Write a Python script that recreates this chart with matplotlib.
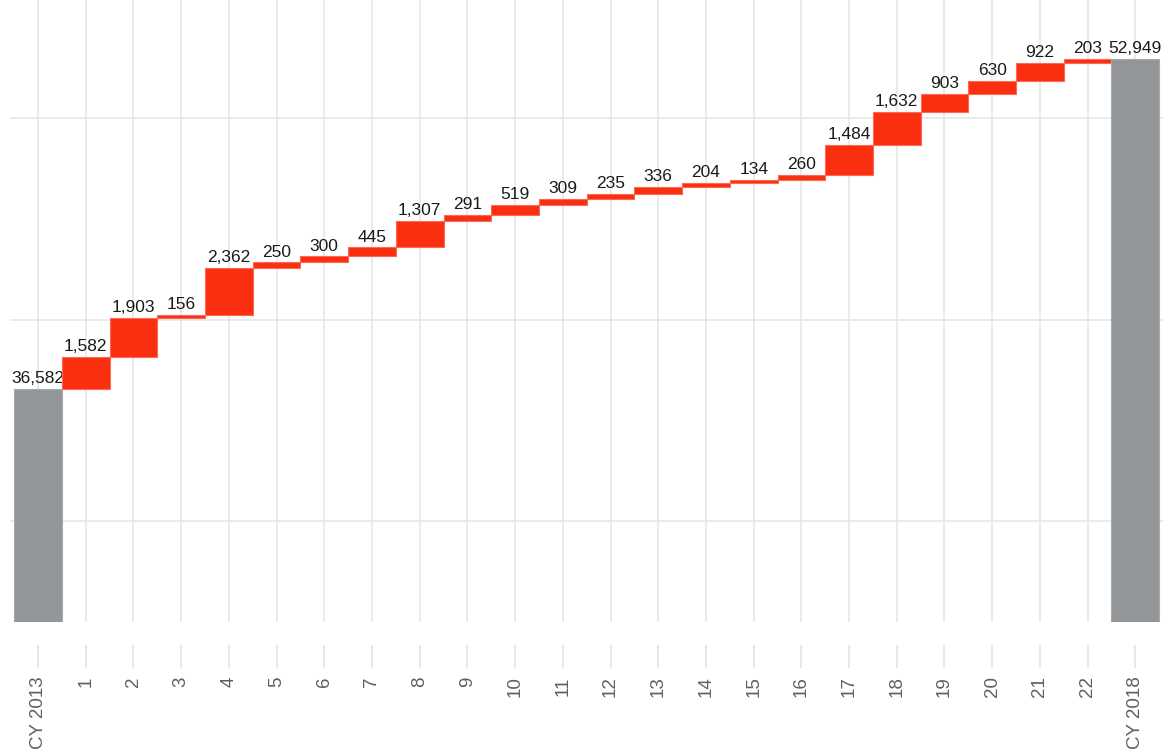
import matplotlib
matplotlib.use("Agg")
import matplotlib.pyplot as plt
import matplotlib.transforms as mtransforms

categories = ["CY 2013"] + [str(i) for i in range(1, 23)] + ["CY 2018"]
start_value = 36582
increments = [1582, 1903, 156, 2362, 250, 300, 445, 1307, 291, 519, 309,
              235, 336, 204, 134, 260, 1484, 1632, 903, 630, 922, 203]
end_value = 52949

plt.rcParams['font.family'] = ['Liberation Sans', 'DejaVu Sans']

W, H = 1165, 756
fig = plt.figure(figsize=(W / 100, H / 100), dpi=100)
ax = fig.add_axes([10 / W, 1 - 622 / H, 1153 / W, 622 / H])

red = "#F92F10"
grey = "#939698"
ymin = 25000
lab_size = 12.5

n = len(categories)
xs = list(range(n))

# start total
ax.bar(0, start_value - ymin, bottom=ymin, width=1.0, color=grey,
       edgecolor="#A7AAAC", linewidth=0.8, zorder=3)
ax.annotate(f"{start_value:,}", (0, start_value), xytext=(0, 2),
            textcoords="offset points", ha="center", va="bottom",
            fontsize=lab_size, color="#1a1a1a")

cum = start_value
for i, inc in enumerate(increments, start=1):
    ax.bar(i, inc, bottom=cum, width=1.0, color=red, edgecolor="#FB6A55",
           linewidth=0.8, zorder=3)
    cum += inc
    ax.annotate(f"{inc:,}", (i, cum), xytext=(0, 2), textcoords="offset points",
                ha="center", va="bottom", fontsize=lab_size, color="#1a1a1a")

ax.bar(n - 1, end_value - ymin, bottom=ymin, width=1.0, color=grey,
       edgecolor="#A7AAAC", linewidth=0.8, zorder=3)
ax.annotate(f"{end_value:,}", (n - 1, end_value), xytext=(0, 2),
            textcoords="offset points", ha="center", va="bottom",
            fontsize=lab_size, color="#1a1a1a")

ax.set_xlim(-0.587, 23.58)
ax.set_ylim(ymin, 55856)

ax.set_yticks([30000, 40000, 50000])
ax.set_yticklabels([])
ax.tick_params(axis="y", length=0)
ax.set_xticks(xs)
ax.set_xticklabels(categories, rotation=90, ha="center", va="top",
                   fontsize=13.5, color="#606060")
ax.tick_params(axis="x", length=0, pad=39)
ax.grid(True, color="#E6E6E6", linewidth=1.2, zorder=0)
ax.set_axisbelow(True)
for s in ax.spines.values():
    s.set_visible(False)

# small tick marks below the plot
trans = mtransforms.blended_transform_factory(ax.transData, ax.transAxes)
for x in xs:
    ax.plot([x, x], [-24 / 622, -45 / 622], transform=trans, color="#E3E3E3",
            linewidth=1.2, clip_on=False)

fig.savefig("out.png", dpi=100, facecolor="white")
